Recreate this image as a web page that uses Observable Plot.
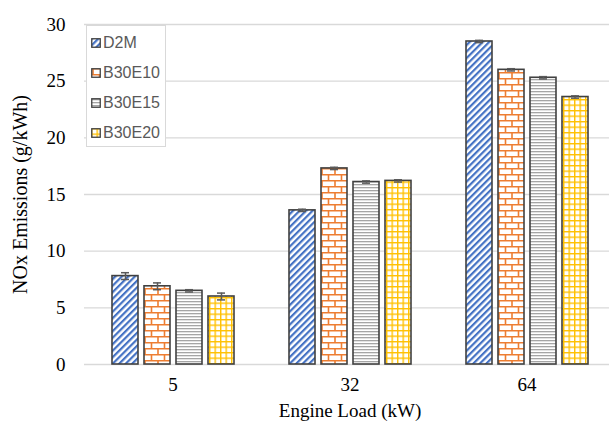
<!DOCTYPE html>
<html>
<head>
<meta charset="utf-8">
<script src="https://cdn.jsdelivr.net/npm/d3@7"></script>
<script src="https://cdn.jsdelivr.net/npm/@observablehq/plot@0.6"></script>
<style>
  html, body { margin: 0; padding: 0; background: #fff; overflow: hidden; }
  #wrap { position: relative; width: 609px; height: 423px; }
  #legend {
    position: absolute; left: 86px; top: 25px; width: 80px; height: 122px;
    background: #fff; border: 1px solid #d9d9d9; box-sizing: border-box;
    font-family: "Liberation Sans", Arial, sans-serif; font-size: 16px; color: #595959;
    padding-top: 2px;
  }
  .item { display: flex; align-items: center; height: 30px; padding-left: 4px; }
  .item svg { margin-right: 2px; }
</style>
</head>
<body>
<div id="wrap"><div id="legend"></div></div>
<script>
// ---- data ----
const loads = ["5", "32", "64"];
const series = ["D2M", "B30E10", "B30E15", "B30E20"];
const valuesD2M    = [7.8, 13.6, 28.5];
const valuesB30E10 = [6.9, 17.3, 26.0];
const valuesB30E15 = [6.5, 16.1, 25.3];
const valuesB30E20 = [6.0, 16.2, 23.6];
const errD2M    = [0.3, 0.1, 0.1];
const errB30E10 = [0.3, 0.1, 0.1];
const errB30E15 = [0.1, 0.1, 0.1];
const errB30E20 = [0.3, 0.1, 0.1];
const yTicks = [0, 5, 10, 15, 20, 25, 30];

const valueArrays = [valuesD2M, valuesB30E10, valuesB30E15, valuesB30E20];
const errArrays = [errD2M, errB30E10, errB30E15, errB30E20];
const rows = [];
loads.forEach((load, i) => series.forEach((s, j) => rows.push({load, series: s, value: valueArrays[j][i], err: errArrays[j][i]})));

const patternIds = ["pD2M", "pB30E10", "pB30E15", "pB30E20"];

const chart = Plot.plot({
  width: 609,
  height: 423,
  marginLeft: 84,
  marginRight: -6,
  marginTop: 24,
  marginBottom: 59,
  style: {fontFamily: "'Liberation Serif', 'Times New Roman', serif", fontSize: "19px", color: "#000", background: "#fff"},
  fx: {domain: loads, paddingInner: 0, paddingOuter: 0, label: "Engine Load (kW)", labelAnchor: "center", labelOffset: 52, tickSize: 0, tickPadding: 13},
  x: {domain: series, paddingInner: 0.1875, paddingOuter: 0.859, axis: null},
  y: {domain: [0, 30], ticks: yTicks, tickSize: 0, tickPadding: 19, label: "NOx Emissions (g/kWh)", labelAnchor: "center", labelOffset: 72, labelArrow: "none"},
  color: {type: "ordinal", domain: series, range: patternIds.map(id => `url(#${id})`)},
  marks: [
    Plot.ruleY(yTicks, {stroke: "#d9d9d9", strokeWidth: 1.3}),
    Plot.barY(rows, {fx: "load", x: "series", y: "value", fill: "series", stroke: "#404040", strokeWidth: 1.6}),
    Plot.ruleX(rows, {fx: "load", x: "series", y1: d => d.value - d.err, y2: d => d.value + d.err, stroke: "#595959", strokeWidth: 1.5}),
    Plot.tickY(rows, {fx: "load", x: "series", y: d => d.value + d.err, insetLeft: 9, insetRight: 9, stroke: "#595959", strokeWidth: 1.5}),
    Plot.tickY(rows, {fx: "load", x: "series", y: d => d.value - d.err, insetLeft: 9, insetRight: 9, stroke: "#595959", strokeWidth: 1.5})
  ]
});

// patterns
const svg = d3.select(chart.tagName.toLowerCase() === "svg" ? chart : chart.querySelector("svg"));
const defs = svg.insert("defs", ":first-child");
// D2M: blue diagonal stripes
let p = defs.append("pattern").attr("id", "pD2M").attr("patternUnits", "userSpaceOnUse")
  .attr("width", 4.6).attr("height", 4.6).attr("patternTransform", "rotate(45)");
p.append("rect").attr("width", 4.6).attr("height", 4.6).attr("fill", "#fff");
p.append("rect").attr("width", 2.2).attr("height", 4.6).attr("fill", "#4472C4");
// B30E10: orange bricks
p = defs.append("pattern").attr("id", "pB30E10").attr("patternUnits", "userSpaceOnUse")
  .attr("width", 13).attr("height", 12);
p.append("rect").attr("width", 13).attr("height", 12).attr("fill", "#fff");
p.append("path").attr("d", "M0,0.8H13M0,6.8H13M2,0V6M8.5,6V12")
  .attr("stroke", "#ED7D31").attr("stroke-width", 1.6).attr("fill", "none");
// B30E15: grey horizontal lines
p = defs.append("pattern").attr("id", "pB30E15").attr("patternUnits", "userSpaceOnUse")
  .attr("width", 6).attr("height", 3);
p.append("rect").attr("width", 6).attr("height", 3).attr("fill", "#fff");
p.append("rect").attr("y", 1).attr("width", 6).attr("height", 1.3).attr("fill", "#A5A5A5");
// B30E20: yellow grid
p = defs.append("pattern").attr("id", "pB30E20").attr("patternUnits", "userSpaceOnUse")
  .attr("width", 5.5).attr("height", 5.5);
p.append("rect").attr("width", 5.5).attr("height", 5.5).attr("fill", "#fff");
p.append("path").attr("d", "M0,0.7H5.5M0.7,0V5.5").attr("stroke", "#FFC000").attr("stroke-width", 1.4).attr("fill", "none");

// axis label sizes
svg.selectAll("g[aria-label='y-axis label']").attr("font-size", 20).style("font-size", "20px");

const wrap = document.getElementById("wrap");
wrap.insertBefore(chart, wrap.firstChild);
chart.style.display = "block";

// legend
const legend = d3.select("#legend");
series.forEach((s, i) => {
  const it = legend.append("div").attr("class", "item");
  const sw = it.append("svg").attr("width", 10).attr("height", 10);
  sw.append("rect").attr("x", 0.75).attr("y", 0.75).attr("width", 8.5).attr("height", 8.5)
    .attr("fill", `url(#${patternIds[i]})`).attr("stroke", "#404040").attr("stroke-width", 1.3);
  it.append("span").text(s);
});
</script>
</body>
</html>
